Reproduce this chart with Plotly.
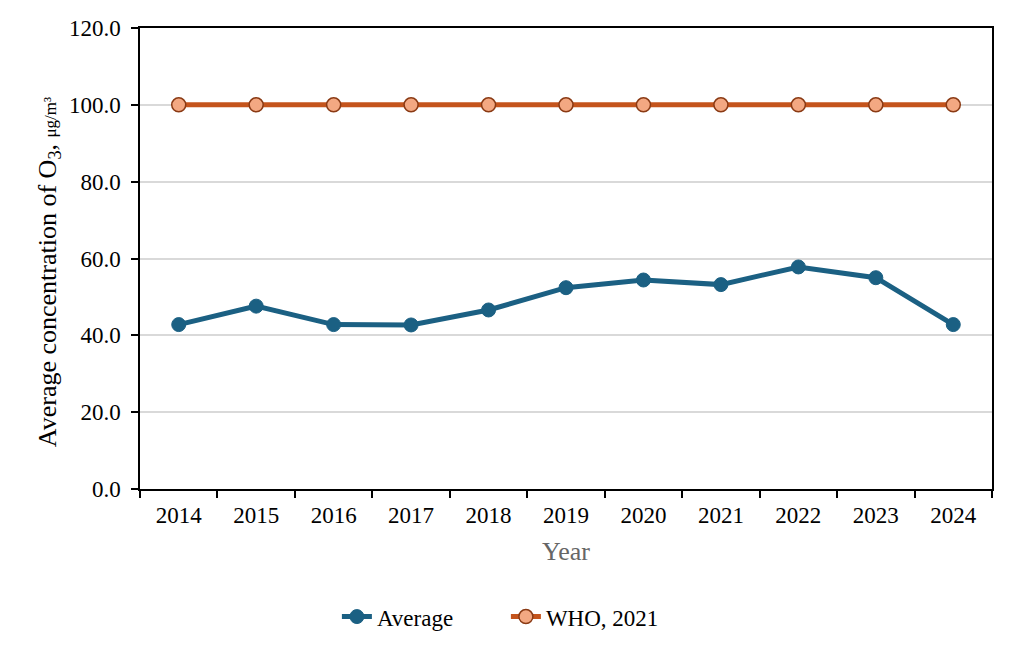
import plotly.graph_objects as go

years = ["2014", "2015", "2016", "2017", "2018", "2019", "2020", "2021", "2022", "2023", "2024"]
average = [42.8, 47.6, 42.8, 42.7, 46.6, 52.4, 54.4, 53.2, 57.8, 55.0, 42.8]
who_2021 = [100.0] * 11
y_ticks = [0, 20, 40, 60, 80, 100, 120]
y_tick_labels = ["0.0", "20.0", "40.0", "60.0", "80.0", "100.0", "120.0"]

FONT = "Liberation Serif"

fig = go.Figure()
fig.add_trace(go.Scatter(
    x=years, y=average, name="Average", mode="lines+markers",
    line=dict(color="#1b6083", width=5),
    marker=dict(color="#1b6083", size=14, line=dict(color="#1b6083", width=1)),
))
fig.add_trace(go.Scatter(
    x=years, y=who_2021, name="WHO, 2021", mode="lines+markers",
    line=dict(color="#c4541c", width=5),
    marker=dict(color="#f3a882", size=14, line=dict(color="#8a3a14", width=1.5)),
))

fig.update_layout(
    width=1024, height=656,
    margin=dict(l=140, r=32, t=28, b=167),
    paper_bgcolor="white", plot_bgcolor="white",
    font=dict(family=FONT, size=23, color="#000000"),
    showlegend=True,
    legend=dict(orientation="h", x=0.329, xanchor="left", xref="container",
                y=0.06, yanchor="middle", yref="container",
                font=dict(family=FONT, size=23, color="#000000"),
                entrywidth=124, entrywidthmode="pixels", tracegroupgap=0),
    xaxis=dict(
        type="category", tickson="boundaries", ticks="outside", ticklen=7,
        tickwidth=1.5, tickcolor="#000", showline=True, linecolor="#000",
        linewidth=1.5, mirror=True, showgrid=False,
        tickfont=dict(family=FONT, size=23, color="#000"),
        ticklabelstandoff=5,
        title=dict(text="Year", font=dict(family=FONT, size=26, color="#666666"),
                   standoff=14),
        range=[-0.5, 10.5],
    ),
    yaxis=dict(
        range=[0, 120], tickmode="array", tickvals=y_ticks, ticktext=y_tick_labels,
        ticks="outside", ticklen=7, tickwidth=1.5, tickcolor="#000",
        showline=True, linecolor="#000", linewidth=1.5, mirror=True,
        showgrid=True, gridcolor="#d9d9d9", gridwidth=1.5, zeroline=False,
        tickfont=dict(family=FONT, size=23, color="#000"),
        ticklabelstandoff=6,
    ),
    annotations=[dict(
        text="Average concentration of O<sub>3</sub>, <span style='font-size:17px'>μg/m³</span>",
        textangle=-90, xref="paper", yref="paper", x=-0.107, y=0.47,
        xanchor="center", yanchor="middle", showarrow=False,
        font=dict(family=FONT, size=26, color="#000"),
    )],
)

fig.write_html("out.html")
